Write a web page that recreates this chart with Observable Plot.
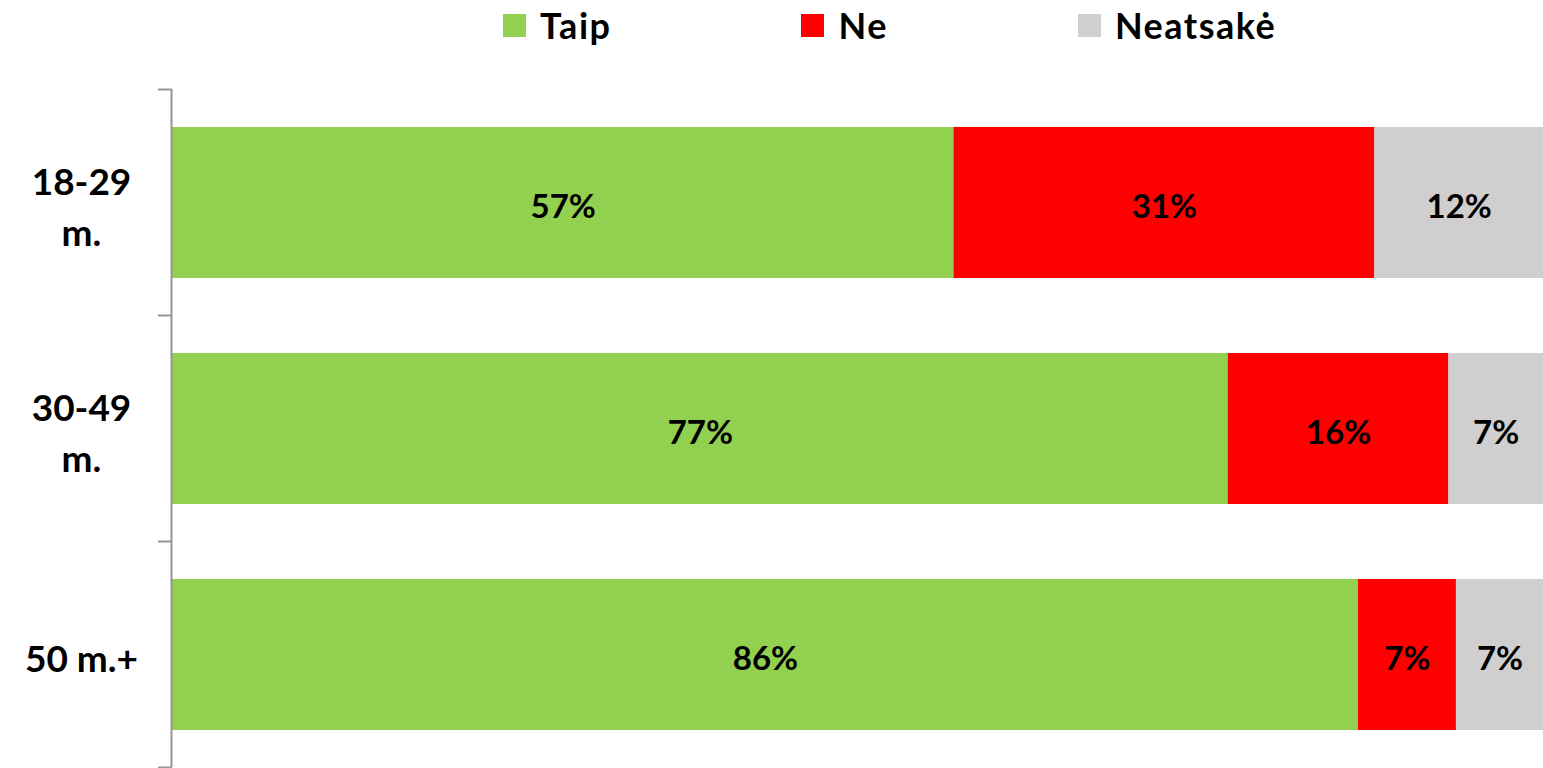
<!DOCTYPE html>
<html><head><meta charset="utf-8">
<script src="https://cdn.jsdelivr.net/npm/d3@7"></script>
<script src="https://cdn.jsdelivr.net/npm/@observablehq/plot@0.6"></script>
<style>
body{margin:0;background:#fff;font-family:Lato,sans-serif;}
#legend{height:60px;width:1543px;display:flex;align-items:flex-start;}
.item{display:flex;align-items:center;height:50px;font-weight:700;font-size:36px;letter-spacing:1.5px;color:#000;}
.sw{width:23px;height:23px;margin-right:14px;}
#chart svg{display:block;}
</style></head><body>
<div id="legend"></div><div id="chart"></div>
<script>
const groups = ["18-29 m.", "30-49 m.", "50 m.+"];
const groupLabels = ["18-29\nm.", "30-49\nm.", "50 m.+"];
const answers = ["Taip", "Ne", "Neatsakė"];
const colors = ["#92D050", "#FF0000", "#D0CECE"];
const taip = [57.0, 77.0, 86.5];
const ne = [30.7, 16.1, 7.15];
const neatsake = [12.3, 6.9, 6.35];
const taipLabels = ["57%", "77%", "86%"];
const neLabels = ["31%", "16%", "7%"];
const neatsakeLabels = ["12%", "7%", "7%"];

const series = [taip, ne, neatsake];
const seriesLabels = [taipLabels, neLabels, neatsakeLabels];
const rows = [];
groups.forEach((g, i) => {
  answers.forEach((a, j) => rows.push({group: g, answer: a, value: series[j][i], label: seriesLabels[j][i]}));
});

// legend
const legend = document.getElementById("legend");
legend.style.paddingLeft = "503px";
legend.style.boxSizing = "border-box";
legend.style.gap = "190px";
answers.forEach((a, j) => {
  const it = document.createElement("div");
  it.className = "item";
  const sw = document.createElement("span");
  sw.className = "sw";
  sw.style.background = colors[j];
  it.appendChild(sw);
  it.appendChild(document.createTextNode(a));
  legend.appendChild(it);
});

function boundaryTicks(index, scales, values, dims) {
  const y = scales.y;
  const step = y.step ? y.step() : (dims.height - dims.marginTop - dims.marginBottom) / groups.length;
  const bw = y.bandwidth ? y.bandwidth() : step * 0.668;
  const half = (step - bw) / 2;
  const ys = groups.map(g => y(g) - half).concat([y(groups[groups.length - 1]) + bw + half]);
  const g = d3.create("svg:g").attr("stroke", "#959595").attr("stroke-width", 2);
  g.selectAll("line").data(ys).join("line")
    .attr("x1", dims.marginLeft - 14).attr("x2", dims.marginLeft)
    .attr("y1", d => d).attr("y2", d => d);
  return g.node();
}

const chart = Plot.plot({
  width: 1543,
  height: 708,
  marginTop: 29,
  marginBottom: 1,
  marginLeft: 172,
  marginRight: 0,
  x: {domain: [0, 100], axis: null},
  y: {domain: groups, paddingInner: 0.332, paddingOuter: 0.166, axis: null},
  color: {domain: answers, range: colors},
  style: {fontFamily: "Lato, sans-serif", background: "#fff"},
  marks: [
    Plot.barX(rows, Plot.stackX({x: "value", y: "group", fill: "answer", order: answers})),
    Plot.text(rows, Plot.stackX({x: "value", y: "group", z: "answer", text: "label", order: answers, fill: "#000", fontSize: 33, fontWeight: 700, dy: 4})),
    Plot.ruleX([0], {stroke: "#959595", strokeWidth: 2, dx: -1}),
    boundaryTicks,
    Plot.text(groups, {y: d => d, text: (d, i) => groupLabels[i], frameAnchor: "left", dx: -91, dy: 1, textAnchor: "middle", fontSize: 37, fontWeight: 700, lineHeight: 1.38, fill: "#000"})
  ]
});
document.getElementById("chart").appendChild(chart);
</script>
</body></html>
